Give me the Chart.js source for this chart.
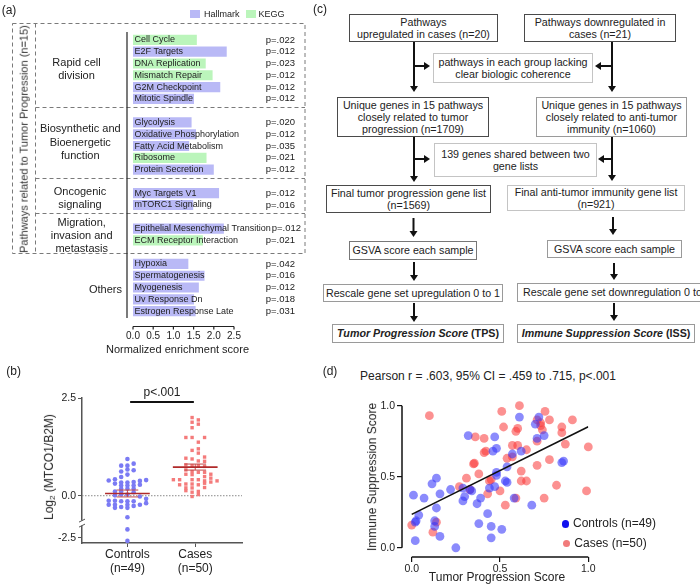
<!DOCTYPE html>
<html><head><meta charset="utf-8">
<title>Tumor progression and immune suppression figure</title>
<script src="https://cdn.jsdelivr.net/npm/chart.js@4.4.1/dist/chart.umd.min.js"></script>
<style>
html,body{margin:0;padding:0;background:#fff;}
body{width:700px;height:585px;position:relative;overflow:hidden;font-family:"Liberation Sans",Arial,Helvetica,sans-serif;color:#222;}
canvas{position:absolute;display:block;}
.t{position:absolute;white-space:nowrap;line-height:1.15;}
.c{transform:translate(-50%,-50%);text-align:center;}
.box{position:absolute;box-sizing:border-box;border:1px solid #4a4a4a;display:flex;align-items:center;justify-content:center;text-align:center;font-size:10.7px;line-height:12.3px;color:#222;white-space:nowrap;background:#fff;}
.g1{border-color:#9a9a9a;} .g2{border-color:#c4c4c4;} .g3{border-color:#777;}
svg{position:absolute;left:0;top:0;}
.dot{position:absolute;border-radius:50%;}
</style></head>
<body>
<svg id="deco" width="700" height="585">
  <g stroke="#7a7a7a" stroke-width="1" stroke-dasharray="4 3" fill="none">
    <rect x="12.5" y="23.5" width="292.5" height="230"/>
    <line x1="35.5" y1="23.5" x2="35.5" y2="253.5"/>
    <line x1="35.5" y1="107.5" x2="305" y2="107.5"/>
    <line x1="35.5" y1="178.5" x2="305" y2="178.5"/>
    <line x1="35.5" y1="213.5" x2="305" y2="213.5"/>
  </g>
  <g id="arrows" stroke="#111" stroke-width="2" fill="#111"></g>
</svg>

<canvas id="cA" width="310" height="362" style="left:0px;top:0px"></canvas>
<canvas id="cB" width="260" height="200" style="left:0px;top:385px"></canvas>
<canvas id="cD" width="328" height="195" style="left:372px;top:390px"></canvas>

<!-- panel (a) texts -->
<div class="t c" style="left:9px;top:11px;font-size:12px">(a)</div>
<div class="t" id="legA" style="left:0;top:0"></div>
<div class="t c" style="left:24px;top:139px;font-size:11px;color:#333;transform:translate(-50%,-50%) rotate(-90deg)">Pathways related to Tumor Progression (n=15)</div>
<div class="t c" style="left:76.5px;top:69px;font-size:11px;line-height:12.6px">Rapid cell<br>division</div>
<div class="t c" style="left:80.3px;top:142.3px;font-size:11px;line-height:13.3px">Biosynthetic and<br>Bioenergetic<br>function</div>
<div class="t c" style="left:80px;top:197.5px;font-size:11px;line-height:13px">Oncogenic<br>signaling</div>
<div class="t c" style="left:81.7px;top:235.3px;font-size:11px;line-height:13px">Migration,<br>invasion and<br>metastasis</div>
<div class="t" style="right:578px;top:282.5px;font-size:11px">Others</div>
<div class="t c" style="left:177.5px;top:349px;font-size:11px">Normalized enrichment score</div>

<!-- panel (b) texts -->
<div class="t c" style="left:13.7px;top:372px;font-size:12px">(b)</div>
<div class="t c" style="left:162px;top:392.7px;font-size:12px">p&lt;.001</div>
<div class="t c" style="left:50px;top:467px;font-size:12px;transform:translate(-50%,-50%) rotate(-90deg)">Log<sub style="font-size:8px;vertical-align:-2px">2</sub> (MTCO1/B2M)</div>

<!-- panel (c) flowchart -->
<div class="t c" style="left:320px;top:10px;font-size:12px">(c)</div>
<div class="box" style="left:349px;top:14px;width:149px;height:28px"><span>Pathways<br>upregulated in cases (n=20)</span></div>
<div class="box" style="left:524px;top:14px;width:152px;height:28px"><span>Pathways downregulated in<br>cases (n=21)</span></div>
<div class="box g2" style="left:433px;top:53px;width:160px;height:30px"><span>pathways in each group lacking<br>clear biologic coherence</span></div>
<div class="box" style="left:337px;top:97px;width:152px;height:40px"><span>Unique genes in 15 pathways<br>closely related to tumor<br>progression (n=1709)</span></div>
<div class="box g1" style="left:536px;top:97px;width:151px;height:40px"><span>Unique genes in 15 pathways<br>closely related to anti-tumor<br>immunity (n=1060)</span></div>
<div class="box g2" style="left:434px;top:143px;width:163px;height:34px"><span>139 genes shared between two<br>gene lists</span></div>
<div class="box" style="left:326px;top:185px;width:165px;height:28px"><span>Final tumor progression gene list<br>(n=1569)</span></div>
<div class="box g2" style="left:507px;top:185px;width:178px;height:26px"><span>Final anti-tumor immunity gene list<br>(n=921)</span></div>
<div class="box g3" style="left:349px;top:241px;width:128px;height:19px"><span>GSVA score each sample</span></div>
<div class="box g1" style="left:547px;top:240px;width:135px;height:18px"><span>GSVA score each sample</span></div>
<div class="box g1" style="left:323px;top:284px;width:180px;height:18px"><span>Rescale gene set upregulation 0 to 1</span></div>
<div class="box g1" style="left:517px;top:283px;width:200px;height:19px;justify-content:flex-start;padding-left:5px"><span>Rescale gene set downregulation 0 to 1</span></div>
<div class="box g1" style="left:332px;top:324px;width:172px;height:19px"><span><b><i>Tumor Progression Score</i> (TPS)</b></span></div>
<div class="box g1" style="left:517px;top:324px;width:178px;height:19px"><span><b><i>Immune Suppression Score</i> (ISS)</b></span></div>

<!-- panel (d) texts -->
<div class="t c" style="left:330px;top:372px;font-size:12px">(d)</div>
<div class="t c" style="left:488px;top:377px;font-size:12px">Pearson r = .603, 95% CI = .459 to .715, p&lt;.001</div>
<div class="t c" style="left:373px;top:477px;font-size:12px;transform:translate(-50%,-50%) rotate(-90deg)">Immune Suppression Score</div>
<div class="t c" style="left:497px;top:577.5px;font-size:12px">Tumor Progression Score</div>
<div id="legD"></div>

<script>
// ---------------- DATA ----------------
// (a) GSEA pathways (blank entries are gaps between groups)
const pathwayLabels = ["Cell Cycle","E2F Targets","DNA Replication","Mismatch Repair","G2M Checkpoint","Mitotic Spindle","",
  "Glycolysis","Oxidative Phosphorylation","Fatty Acid Metabolism","Ribosome","Protein Secretion","",
  "Myc Targets V1","mTORC1 Signaling","",
  "Epithelial Mesenchymal Transition","ECM Receptor Interaction","",
  "Hypoxia","Spermatogenesis","Myogenesis","Uv Response Dn","Estrogen Response Late"];
const nesValues = [1.58,2.32,1.80,1.97,2.16,1.51,null,
  1.45,1.56,1.39,1.82,2.00,null,
  2.13,1.49,null,
  2.25,1.73,null,
  1.37,1.77,1.63,1.51,1.55];
const pathwaySource = ["K","H","K","K","H","H","",
  "H","H","H","K","H","",
  "H","H","",
  "H","K","",
  "H","H","H","H","H"];
const pValues = ["p=.022","p=.012","p=.023","p=.012","p=.012","p=.012","",
  "p=.020","p=.012","p=.035","p=.021","p=.012","",
  "p=.012","p=.016","",
  "p=.012","p=.021","",
  "p=.042","p=.016","p=.012","p=.018","p=.031"];
const nesTicks = [0,0.5,1,1.5,2,2.5];
const sourceNames = {H:"Hallmark", K:"KEGG"};

// (b) Log2(MTCO1/B2M) per subject, with beeswarm column index
const controlsMTCO1 = [0.94,0.82,0.77,0.77,0.67,0.65,0.62,0.48,0.54,0.39,
  0.42,0.31,0.34,0.34,0.35,0.38,0.40,0.28,0.26,0.26,
  0.26,0.18,0.18,0.18,0.11,0.11,0.09,0.01,0.03,0.03,
  -0.02,-0.08,-0.13,-0.13,-0.14,-0.14,-0.14,-0.23,-0.23,-0.23,
  -0.26,-0.23,-0.19,-0.31,-0.29,-0.31,-0.55,-2.1,-2.65];
const controlsCol = [0,1,-1,0,0,1,-1,-1,0,-3,
  -2,-2,-1,0,1,2,3,2,-1,0,
  1,-1,0,1,-2,-1,1,-2,-1,0,
  2,3,-3,-2,-1,0,1,-3,-2,0,
  1,2,3,-2,-1,0,0,0,0];
const casesMTCO1 = [2.00,1.94,1.88,1.83,1.74,1.49,1.49,1.49,1.37,1.16,
  1.20,1.09,0.96,0.94,0.99,0.89,0.88,0.79,0.77,0.77,
  0.75,0.66,0.62,0.60,0.60,0.55,0.54,0.49,0.45,0.41,
  0.41,0.41,0.41,0.38,0.35,0.38,0.28,0.30,0.30,0.28,
  0.32,0.20,0.20,0.21,0.13,0.11,0.09,0.03,-0.02,0.55];
const casesCol = [-0.5,0.5,-0.5,0.5,-0.5,-1.5,-0.5,1.5,0.5,-0.5,
  0.5,0.5,-1.5,-0.5,1.5,0.5,1.5,-1.5,-0.5,0.5,
  1.5,-1.5,-0.5,0.5,1.5,-1.5,-0.5,1.5,2.5,-3.5,
  -2.5,-0.5,0.5,1.5,2.5,3.5,-2.5,-1.5,-0.5,0.5,
  1.5,-1.5,-0.5,1.5,-1.5,0.5,-0.5,0.5,-0.5,2.5];
const groupNames = ["Controls","Cases"];
const log2Ticks = [-2.5, 0, 2.5];
const sigBarY = 2.4;

// (d) TPS vs ISS
const controlsTPS = [0.61,0.72,0.70,0.32,0.47,0.71,0.75,0.48,0.46,0.62,
  0.57,0.54,0.48,0.48,0.53,0.54,0.47,0.14,0.115,0.22,
  0.29,0.33,0.01,0.07,0.16,0.30,0.29,0.39,0.37,0.58,
  0.68,0.14,0.43,0.04,0.02,0.025,0.13,0.13,0.16,0.38,
  0.45,0.51,0.45,0.02,0.25,0.85,0.86,0.34,0.44];
const controlsISS = [0.92,0.92,0.87,0.79,0.78,0.77,0.79,0.70,0.68,0.68,
  0.66,0.57,0.53,0.51,0.47,0.46,0.43,0.49,0.45,0.41,
  0.42,0.41,0.37,0.35,0.38,0.36,0.33,0.35,0.31,0.35,
  0.30,0.28,0.24,0.23,0.18,0.19,0.19,0.15,0.08,0.17,
  0.15,0.13,0.07,0.05,0.00,0.60,0.61,0.40,0.42];
const casesTPS = [0.10,0.51,0.61,0.755,0.71,0.73,0.78,0.91,0.52,0.60,
  0.59,0.74,0.85,0.85,0.36,0.41,0.71,0.87,0.57,0.60,
  0.65,1.00,0.41,0.42,0.35,0.355,0.54,0.57,0.71,0.78,
  0.62,0.38,0.31,0.45,0.44,0.62,0.65,0.27,0.33,0.50,
  0.43,0.82,0.99,0.59,0.75,0.53,0.00,0.14,0.12,0.73];
const casesISS = [0.93,0.96,1.00,0.96,0.90,0.88,0.90,0.90,0.85,0.84,
  0.82,0.83,0.85,0.81,0.78,0.77,0.75,0.73,0.72,0.72,
  0.69,0.71,0.67,0.68,0.59,0.595,0.63,0.64,0.58,0.62,
  0.54,0.52,0.49,0.48,0.47,0.47,0.47,0.43,0.41,0.40,
  0.38,0.44,0.40,0.35,0.35,0.30,0.16,0.18,0.11,0.86];
const fitX = [0, 1];
const fitY = [0.235, 0.852];
const scoreTicks = [0, 0.5, 1];

// ---------------- STYLE ----------------
const FONT = '"Liberation Sans", Arial, Helvetica, sans-serif';
Chart.defaults.font.family = FONT;
Chart.defaults.color = '#222';
Chart.defaults.animation = false;
const HALL_COLOR = '#b9b9f6', KEGG_COLOR = '#bbf5bb';

// legend for (a)
document.getElementById('legA').innerHTML =
  '<div style="position:absolute;left:190px;top:10px;width:10px;height:8px;background:'+HALL_COLOR+'"></div>'+
  '<div class="t" style="left:204px;top:9px;font-size:9px">'+sourceNames.H+'</div>'+
  '<div style="position:absolute;left:246px;top:10px;width:10px;height:8px;background:'+KEGG_COLOR+'"></div>'+
  '<div class="t" style="left:258.5px;top:9px;font-size:9px">'+sourceNames.K+'</div>';

// flowchart arrows
(function(){
  const g = document.getElementById('arrows');
  const ns = 'http://www.w3.org/2000/svg';
  function ln(x1,y1,x2,y2){const e=document.createElementNS(ns,'line');e.setAttribute('x1',x1);e.setAttribute('y1',y1);e.setAttribute('x2',x2);e.setAttribute('y2',y2);g.appendChild(e);}
  function poly(p){const e=document.createElementNS(ns,'polygon');e.setAttribute('points',p);e.setAttribute('stroke','none');g.appendChild(e);}
  function down(x,y1,y2){ln(x,y1,x,y2-5);poly((x-4)+','+(y2-6)+' '+(x+4)+','+(y2-6)+' '+x+','+y2);}
  function right(x1,x2,y){ln(x1,y,x2-5,y);poly((x2-6)+','+(y-4)+' '+(x2-6)+','+(y+4)+' '+x2+','+y);}
  function left(x1,x2,y){ln(x1,y,x2+5,y);poly((x2+6)+','+(y-4)+' '+(x2+6)+','+(y+4)+' '+x2+','+y);}
  down(414,42,92); right(414,430,66);
  down(612,42,92); left(612,595,66);
  down(414,137,182); right(414,430,159);
  down(612,137,181); left(612,598,159);
  down(413.5,218,237); down(613,217,235);
  down(414,262,281); down(614,263,280);
  down(414,303,322); down(614,303,321);
})();

// ---------------- CHART A ----------------
const barTextPlugin = {
  id:'barText',
  afterDatasetsDraw(chart){
    const ctx = chart.ctx, meta = chart.getDatasetMeta(0), xs = chart.scales.x;
    const x0 = xs.getPixelForValue(0) + 1.5;
    ctx.save();
    ctx.fillStyle = '#222'; ctx.textBaseline = 'middle'; ctx.textAlign = 'left';
    meta.data.forEach((bar, i) => {
      if (!pathwayLabels[i]) return;
      ctx.font = '9px ' + FONT;
      ctx.fillText(pathwayLabels[i], x0, bar.y);
      const w = ctx.measureText(pathwayLabels[i]).width;
      ctx.font = '9.5px ' + FONT;
      const pw = ctx.measureText(pValues[i]).width;
      const px = Math.max(295 - pw, x0 + w + 1);
      ctx.fillText(pValues[i], px, bar.y);
    });
    ctx.restore();
  }
};
const axesAPlugin = {
  id:'axesA',
  afterDraw(chart){
    const {ctx, chartArea:a, scales:{x}} = chart;
    ctx.save(); ctx.strokeStyle = '#222'; ctx.lineWidth = 1.2;
    ctx.beginPath(); ctx.moveTo(a.left - 6, a.top - 2); ctx.lineTo(a.left - 6, a.bottom + 1); ctx.stroke();
    const yA = a.bottom + 9.5;
    ctx.beginPath(); ctx.moveTo(x.getPixelForValue(nesTicks[0]), yA); ctx.lineTo(x.getPixelForValue(nesTicks[nesTicks.length-1]), yA); ctx.stroke();
    x.ticks.forEach(t => { const px = x.getPixelForValue(t.value); ctx.beginPath(); ctx.moveTo(px, yA); ctx.lineTo(px, yA + 3); ctx.stroke(); });
    ctx.restore();
  }
};
new Chart(document.getElementById('cA'), {
  type:'bar',
  data:{labels:pathwayLabels, datasets:[{data:nesValues,
    backgroundColor:pathwaySource.map(s => s === 'K' ? KEGG_COLOR : HALL_COLOR),
    barPercentage:0.86, categoryPercentage:1, borderWidth:0}]},
  options:{
    indexAxis:'y', responsive:false, animation:false,
    layout:{padding:{left:133, right:76, top:34, bottom:0}},
    plugins:{legend:{display:false}, tooltip:{enabled:false}},
    scales:{
      y:{display:false},
      x:{min:0, max:2.5,
        afterBuildTicks:s => { s.ticks = nesTicks.map(v => ({value:v})); },
        ticks:{callback:v => Number(v).toFixed(1), font:{size:10}, color:'#222', padding:13, maxRotation:0},
        grid:{display:false, drawTicks:false}, border:{display:false},
        title:{display:false},
        afterFit:s => { s.height = 45; }
      }
    }
  },
  plugins:[barTextPlugin, axesAPlugin]
});

// ---------------- CHART B ----------------
const BREAK_UPPER_MIN = -0.7, BREAK_LOWER_MAX = -1.8, BREAK_FACTOR = 0.536, LOWER_MIN = -2.75;
function toVirtual(v){ return v <= BREAK_LOWER_MAX ? BREAK_UPPER_MIN - (BREAK_LOWER_MAX - v) * BREAK_FACTOR : v; }
const LinearBase = Chart.LinearScale || Chart.registry.getScale('linear');
class BrokenLinearScale extends LinearBase {
  getPixelForValue(v){
    if (v === null || v === undefined || isNaN(v)) return NaN;
    return super.getPixelForValue(toVirtual(v));
  }
}
BrokenLinearScale.id = 'brokenLinear';
BrokenLinearScale.defaults = LinearBase.defaults;
Chart.register(BrokenLinearScale);

const jitterStep = 0.092;
function swarm(vals, cols, center){ return vals.map((v, i) => ({x:center + cols[i] * jitterStep, y:v})); }
function meanSem(vals){
  const n = vals.length, m = vals.reduce((a, b) => a + b, 0) / n;
  const sd = Math.sqrt(vals.reduce((a, b) => a + (b - m) * (b - m), 0) / (n - 1));
  return {m, s:sd / Math.sqrt(n)};
}
const groups = [controlsMTCO1, casesMTCO1].map(meanSem);
const meanData = [], semData = [];
groups.forEach((g, i) => {
  const c = i + 1;
  meanData.push({x:c - 0.33, y:g.m}, {x:c + 0.33, y:g.m}, {x:c + 0.5, y:null});
  semData.push({x:c, y:g.m - g.s}, {x:c, y:g.m + g.s}, {x:c, y:null},
               {x:c - 0.16, y:g.m + g.s}, {x:c + 0.16, y:g.m + g.s}, {x:c, y:null},
               {x:c - 0.16, y:g.m - g.s}, {x:c + 0.16, y:g.m - g.s}, {x:c, y:null});
});
const groupTickLabels = [[groupNames[0], '(n=' + controlsMTCO1.length + ')'], [groupNames[1], '(n=' + casesMTCO1.length + ')']];
const X_MIN_B = 0.33, X_MAX_B = 2.69;

const breakPlugin = {
  id:'breakMark',
  afterDraw(chart){
    const {ctx, chartArea:a, scales:{y}} = chart;
    const py = y.getPixelForValue(BREAK_UPPER_MIN);
    const x = a.left;
    ctx.save();
    ctx.fillStyle = '#fff'; ctx.fillRect(x - 2, py - 2.5, 4, 5);
    ctx.strokeStyle = '#555'; ctx.lineWidth = 1;
    ctx.beginPath(); ctx.moveTo(x - 3, py - 1); ctx.lineTo(x + 3, py - 4); ctx.stroke();
    ctx.beginPath(); ctx.moveTo(x - 3, py + 4); ctx.lineTo(x + 3, py + 1); ctx.stroke();
    ctx.restore();
  }
};
new Chart(document.getElementById('cB'), {
  type:'scatter',
  data:{datasets:[
    {data:[{x:X_MIN_B, y:0}, {x:X_MAX_B, y:0}], showLine:true, pointRadius:0, borderColor:'#8a8a8a', borderWidth:1, borderDash:[1.5, 1.5], order:10},
    {data:swarm(controlsMTCO1, controlsCol, 1), pointStyle:'circle', pointRadius:2.3, pointBorderWidth:0, backgroundColor:'#7b7bf4', order:5, clip:false},
    {data:swarm(casesMTCO1, casesCol, 2), pointStyle:'rect', pointRadius:2.4, pointBorderWidth:0, backgroundColor:'#f47b7b', order:5, clip:false},
    {data:meanData, showLine:true, pointRadius:0, borderColor:'#b02a2a', borderWidth:1.7, spanGaps:false, order:1},
    {data:semData, showLine:true, pointRadius:0, borderColor:'#c24a4a', borderWidth:1, spanGaps:false, order:2},
    {data:[{x:1.04, y:sigBarY}, {x:1.98, y:sigBarY}], showLine:true, pointRadius:0, borderColor:'#111', borderWidth:2, order:1, clip:false}
  ]},
  options:{
    responsive:false, animation:false,
    layout:{padding:{left:0, right:18, top:13, bottom:0}},
    plugins:{legend:{display:false}, tooltip:{enabled:false}},
    scales:{
      x:{type:'linear', min:X_MIN_B, max:X_MAX_B,
        afterBuildTicks:s => { s.ticks = [1, 2].map(v => ({value:v})); },
        ticks:{callback:(v, i) => groupTickLabels[i], font:{size:12}, color:'#222', padding:0, autoSkip:false, maxRotation:0},
        grid:{drawOnChartArea:false, tickLength:4, color:'#555', lineWidth:1},
        border:{color:'#555', width:1.5},
        afterFit:s => { s.height = 42; }
      },
      y:{type:'brokenLinear', min:toVirtual(LOWER_MIN), max:2.5,
        afterBuildTicks:s => { s.ticks = log2Ticks.map(v => ({value:v})); },
        ticks:{callback:v => Number(v).toFixed(1), font:{size:10.5}, color:'#222', padding:2, autoSkip:false},
        grid:{drawOnChartArea:false, tickLength:4, color:'#555', lineWidth:1},
        border:{color:'#555', width:1.5},
        afterFit:s => { s.width = 82; }
      }
    }
  },
  plugins:[breakPlugin]
});

// ---------------- CHART D ----------------
const axesDPlugin = {
  id:'axesD',
  afterDraw(chart){
    const {ctx, chartArea:a, scales:{x, y}} = chart;
    ctx.save(); ctx.strokeStyle = '#111'; ctx.lineWidth = 1.5;
    ctx.beginPath(); ctx.moveTo(a.left, y.getPixelForValue(1)); ctx.lineTo(a.left, y.getPixelForValue(0)); ctx.stroke();
    ctx.beginPath(); ctx.moveTo(x.getPixelForValue(0), a.bottom); ctx.lineTo(x.getPixelForValue(1), a.bottom); ctx.stroke();
    ctx.restore();
  }
};
const toPts = (xs, ys) => xs.map((v, i) => ({x:v, y:ys[i]}));
new Chart(document.getElementById('cD'), {
  type:'scatter',
  data:{datasets:[
    {data:toPts(fitX, fitY), showLine:true, pointRadius:0, borderColor:'#111', borderWidth:1.6, order:0},
    {data:toPts(controlsTPS, controlsISS), pointRadius:4.4, pointBorderWidth:0, backgroundColor:'rgba(55,55,250,0.58)', order:1, clip:false},
    {data:toPts(casesTPS, casesISS), pointRadius:4.4, pointBorderWidth:0, backgroundColor:'rgba(250,55,55,0.55)', order:2, clip:false}
  ]},
  options:{
    responsive:false, animation:false,
    layout:{padding:{left:0, right:111.7, top:15.7, bottom:0}},
    plugins:{legend:{display:false}, tooltip:{enabled:false}},
    scales:{
      x:{type:'linear', min:-0.055, max:1,
        afterBuildTicks:s => { s.ticks = scoreTicks.map(v => ({value:v})); },
        ticks:{callback:v => Number(v).toFixed(1), font:{size:10.5}, color:'#222', padding:1, maxRotation:0, autoSkip:false},
        grid:{drawOnChartArea:false, tickLength:5, color:'#111', lineWidth:1.2},
        border:{display:false},
        afterFit:s => { s.height = 28; }
      },
      y:{type:'linear', min:-0.065, max:1,
        afterBuildTicks:s => { s.ticks = scoreTicks.map(v => ({value:v})); },
        ticks:{callback:v => Number(v).toFixed(1), font:{size:10.5}, color:'#222', padding:2, autoSkip:false},
        grid:{drawOnChartArea:false, tickLength:5, color:'#111', lineWidth:1.2},
        border:{display:false},
        afterFit:s => { s.width = 30; }
      }
    }
  },
  plugins:[axesDPlugin]
});

// legend (d)
document.getElementById('legD').innerHTML =
  '<div class="dot" style="left:561.5px;top:520.3px;width:7.4px;height:7.4px;background:#1010ee"></div>'+
  '<div class="t" style="left:573px;top:517px;font-size:12px">Controls (n=' + controlsTPS.length + ')</div>'+
  '<div class="dot" style="left:562.5px;top:540px;width:7.4px;height:7.4px;background:#f17b7b"></div>'+
  '<div class="t" style="left:574.3px;top:536.7px;font-size:12px">Cases (n=' + casesTPS.length + ')</div>';
</script>
</body></html>
